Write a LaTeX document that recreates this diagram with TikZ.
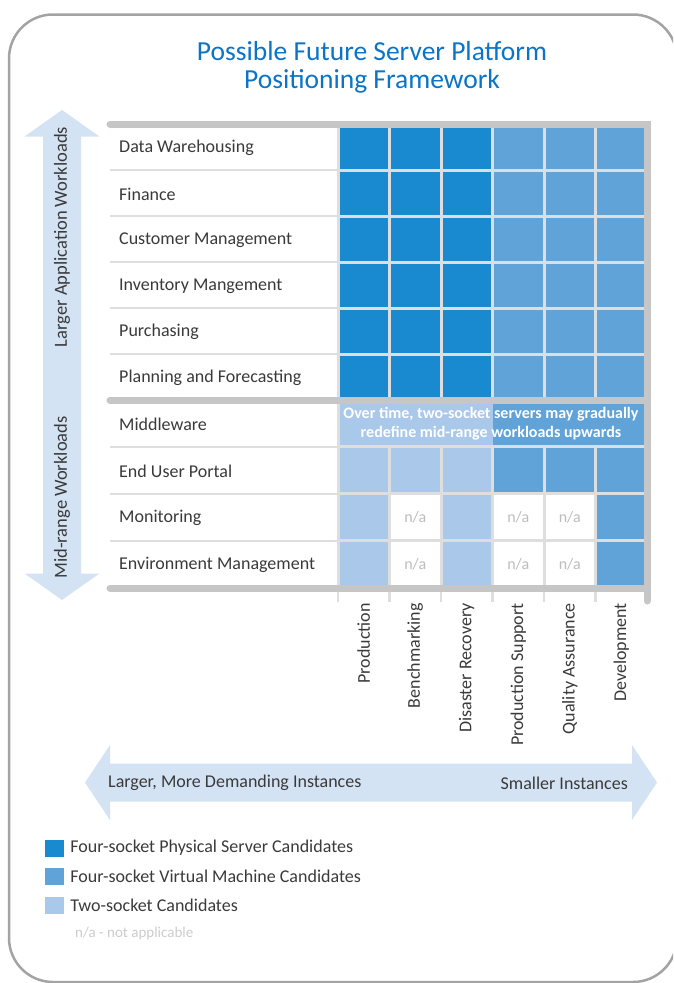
\documentclass[tikz,border=0pt]{standalone}
\usepackage{fontspec}
\setmainfont{Carlito}
\usepackage{tikz}
\usetikzlibrary{calc}
\usetikzlibrary{positioning}

\definecolor{titleblue}{HTML}{0B74C6}
\definecolor{cD}{HTML}{1A8AD0}
\definecolor{cM}{HTML}{5FA3D8}
\definecolor{cL}{HTML}{AAC8E9}
\definecolor{cN}{HTML}{FFFFFF}
\definecolor{arrowblue}{HTML}{D4E3F4}
\definecolor{bargray}{HTML}{C6C6C6}
\definecolor{gridgray}{HTML}{DEDEDE}
\definecolor{textgray}{HTML}{3A3A3A}
\definecolor{nagray}{HTML}{BDBDBD}
\definecolor{keygray}{HTML}{CCCCCC}
\definecolor{framegray}{HTML}{A3A3A3}

\begin{document}
\begin{tikzpicture}[x=1pt, y=-1pt,
        rowtext/.style={anchor=west, inner sep=0pt, text=textgray, font=\fontsize{18}{21}\selectfont},
        cell/.style={rectangle, inner sep=0pt, minimum width=48.5pt, minimum height=43pt, text=nagray, font=\fontsize{16}{19}\selectfont},
        colhead/.style={rotate=90, anchor=east, inner sep=0pt, text=textgray, font=\fontsize{18}{21}\selectfont},
        bar/.style={draw=bargray, line width=7pt, line cap=round},
        tick/.style={draw=gridgray, line width=2.5pt},
        keybox/.style={rectangle, inner sep=0pt, minimum width=19pt, minimum height=17pt},
        keytext/.style={anchor=west, inner sep=0pt, text=textgray, font=\fontsize{18}{21}\selectfont}]
    \useasboundingbox (0,0) rectangle (673,983);
    \clip (0,0) rectangle (673,983);

    \node[align=center, text=titleblue, font=\fontsize{27.5}{28}\selectfont] (title) at (372,67.5)
        {Possible Future Server Platform\\Positioning Framework};

    \fill[gridgray] (110,124) rectangle (647,588);
    \foreach \lab [count=\i from 0] in {Data Warehousing, Finance, Customer Management,
        Inventory Mangement, Purchasing, Planning and Forecasting}
    {
        \fill[white] (110,125.2+46*\i) rectangle (336.5,168.8+46*\i);
        \node[rowtext] (row\i) at (119,148+46*\i) {\lab};
    }
    \foreach \lab [count=\i from 0] in {Middleware, End User Portal, Monitoring, Environment Management}
    {
        \fill[white] (110,401.2+46.9*\i) rectangle (336.5,445.7+46.9*\i);
        \node[rowtext] (low\i) at (119,424.5+46.9*\i) {\lab};
    }

    \def\naN{n/a}
    \foreach \c [count=\k from 0] in {D,D,D,M,M,M}
        \foreach \r in {0,...,5}
            \node[cell, fill=c\c] (up-\r-\k) at (363.75+51.5*\k, 147+46*\r) {};
    \foreach \r/\codes in {1/{L,L,L,M,M,M}, 2/{L,N,L,N,N,M}, 3/{L,N,L,N,N,M}}
        \foreach \c [count=\k from 0] in \codes
            \node[cell, minimum height=43.9pt, fill=c\c] (low-\r-\k) at (363.75+51.5*\k, 423.45+46.9*\r)
                {\csname na\c\endcsname};

    \fill[cL] (339.5,401.5) rectangle (493,445.4);
    \fill[cM] (493,401.5) rectangle (645.5,445.4);
    \node[align=center, text=white, font=\bfseries\fontsize{16}{19}\selectfont] (shift) at (491,424)
        {Over time, two-socket servers may gradually\\redefine mid-range workloads upwards};

    \foreach \k in {0,...,5}
        \draw[tick] (338+51.5*\k,588) -- ++(0,14);
    \draw[bar] (110,124) -- (647,124) -- (647,601);
    \draw[bar] (110,400) -- (647,400);
    \draw[bar] (110,588) -- (647,588);

    \foreach \name [count=\k from 0] in {Production, Benchmarking, Disaster Recovery,
        Production Support, Quality Assurance, Development}
        \node[colhead] (col\k) at (363.75+51.5*\k,603) {\name};

    \fill[arrowblue] (62,110) -- (99.5,136.5) -- (81,136.5) -- (81,573.5) -- (99.5,573.5)
        -- (62,600) -- (24.5,573.5) -- (43,573.5) -- (43,136.5) -- (24.5,136.5) -- cycle;
    \node[rotate=90, text=textgray, font=\fontsize{18.5}{21}\selectfont] (bigload) at (62,237)
        {Larger Application Workloads};
    \node[rotate=90, text=textgray, font=\fontsize{18.5}{21}\selectfont] (midload) at (62,497.5)
        {Mid-range Workloads};

    \fill[arrowblue] (85,782.5) -- (110,745) -- (110,763.5) -- (632,763.5) -- (632,745)
        -- (657,782.5) -- (632,820) -- (632,801.5) -- (110,801.5) -- (110,820) -- cycle;
    \node[keytext] (large) at (108,783) {Larger, More Demanding Instances};
    \node[keytext, anchor=east] (small) at (628,783) {Smaller Instances};

    \foreach \txt/\col [count=\i from 0] in {Four-socket Physical Server Candidates/cD,
        Four-socket Virtual Machine Candidates/cM, Two-socket Candidates/cL}
    {
        \node[keybox, fill=\col] (key\i) at (54.5,848+28.7*\i) {};
        \node[keytext, right=6pt of key\i] (keylab\i) {\txt};
    }
    \node[anchor=west, inner sep=0pt, text=keygray, font=\fontsize{15}{18}\selectfont] (nakey) at (75,933)
        {n/a - not applicable};

    \draw[framegray, line width=2.5pt, rounded corners=44pt] (9,14.5) rectangle (677,982);
\end{tikzpicture}
\end{document}
